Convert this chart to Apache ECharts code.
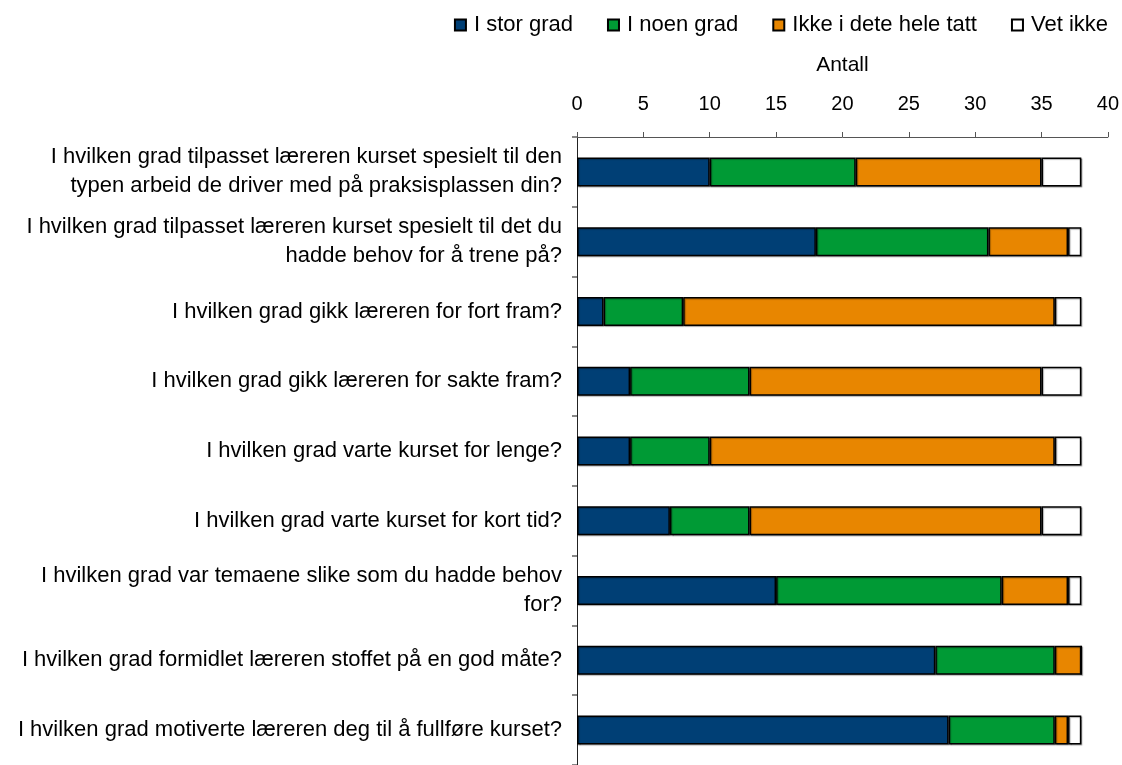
<!DOCTYPE html>
<html>
<head>
<meta charset="utf-8">
<script src="https://cdn.jsdelivr.net/npm/echarts@6/dist/echarts.min.js"></script>
<style>
  html, body { margin: 0; padding: 0; background: #fff; }
  #main { width: 1122px; height: 765px; }
</style>
</head>
<body>
<div id="main"></div>
<script>
var questions = [
  'I hvilken grad tilpasset læreren kurset spesielt til den\ntypen arbeid de driver med på praksisplassen din?',
  'I hvilken grad tilpasset læreren kurset spesielt til det du\nhadde behov for å trene på?',
  'I hvilken grad gikk læreren for fort fram?',
  'I hvilken grad gikk læreren for sakte fram?',
  'I hvilken grad varte kurset for lenge?',
  'I hvilken grad varte kurset for kort tid?',
  'I hvilken grad var temaene slike som du hadde behov\nfor?',
  'I hvilken grad formidlet læreren stoffet på en god måte?',
  'I hvilken grad motiverte læreren deg til å fullføre kurset?'
];
var storGrad = [10, 18, 2, 4, 4, 7, 15, 27, 28];
var noenGrad = [11, 13, 6, 9, 6, 6, 17, 9, 8];
var ikkeIDet = [14, 6, 28, 22, 26, 22, 5, 2, 1];
var vetIkke = [3, 1, 2, 3, 2, 3, 1, 0, 1];

var seriesNames = ['I stor grad', 'I noen grad', 'Ikke i dete hele tatt', 'Vet ikke'];
var seriesColors = ['#003f75', '#009a35', '#e88600', '#ffffff'];
var seriesData = [storGrad, noenGrad, ikkeIDet, vetIkke];

var font = 'Liberation Sans, Arial, sans-serif';

var chart = echarts.init(document.getElementById('main'));
chart.setOption({
  animation: false,
  textStyle: { fontFamily: font },
  legend: {
    top: 14,
    right: 14,
    padding: 0,
    itemWidth: 11,
    itemHeight: 11,
    itemGap: 34,
    icon: 'rect',
    textStyle: { fontSize: 22, color: '#000', fontFamily: font, padding: [0, 0, 0, 3] },
    data: seriesNames
  },
  grid: { left: 577, right: 14, top: 137, bottom: 0, containLabel: false },
  xAxis: {
    type: 'value',
    position: 'top',
    min: 0, max: 40, interval: 5,
    name: 'Antall',
    nameLocation: 'middle',
    nameGap: 61,
    nameTextStyle: { fontSize: 21, color: '#000', fontFamily: font },
    axisLine: { show: true, lineStyle: { color: '#555', width: 1 } },
    axisTick: { show: true, length: 5, lineStyle: { color: '#555' } },
    axisLabel: { fontSize: 20, color: '#000', margin: 23, fontFamily: font },
    splitLine: { show: false }
  },
  yAxis: {
    type: 'category',
    inverse: true,
    data: questions,
    axisLine: { show: true, lineStyle: { color: '#222', width: 1 } },
    axisTick: { show: true, length: 5, lineStyle: { color: '#888', width: 2 } },
    axisLabel: { fontSize: 22, color: '#000', margin: 15, lineHeight: 29, align: 'right', fontFamily: font }
  },
  series: seriesData.map(function (d, i) {
    return {
      name: seriesNames[i],
      type: 'bar',
      stack: 'total',
      barWidth: 29,
      data: d,
      itemStyle: {
        color: seriesColors[i],
        borderColor: '#000',
        borderWidth: 1.5,
        shadowColor: 'rgba(0,0,0,0.3)',
        shadowOffsetX: 1,
        shadowOffsetY: 1,
        shadowBlur: 1
      }
    };
  })
});
</script>
</body>
</html>
